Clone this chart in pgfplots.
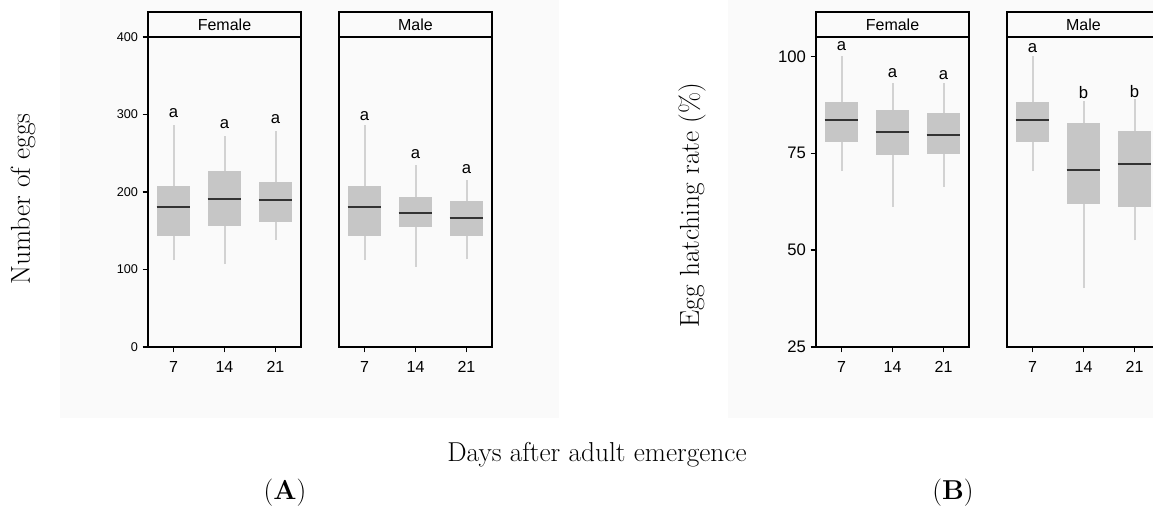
\documentclass[border=0pt]{standalone}
\usepackage{fontspec}
\usepackage{pgfplots}
\pgfplotsset{compat=1.18}
\setsansfont{Liberation Sans}

\definecolor{boxgray}{HTML}{C6C6C6}
\definecolor{whisk}{HTML}{D2D2D2}
\definecolor{medc}{HTML}{333333}
\definecolor{bg}{HTML}{FAFAFA}

% one box: position, left, right, lower whisker, Q1, median, Q3, upper whisker
\newcommand{\bx}[8]{%
  \addplot[draw=none, fill=boxgray] coordinates {(#2,#5) (#3,#5) (#3,#7) (#2,#7)} -- cycle;
  \addplot[whisk, line width=1.5pt] coordinates {(#1,#4) (#1,#5)};
  \addplot[whisk, line width=1.5pt] coordinates {(#1,#7) (#1,#8)};
  \addplot[medc, line width=1.5pt] coordinates {(#2,#6) (#3,#6)};}
\newcommand{\lab}[3]{\node[font=\sffamily\fontsize{12.5}{14}\selectfont, inner sep=0pt] at (axis cs:#1,#2) {#3};}
\newcommand{\strip}[1]{%
  \draw[line width=1pt] (rel axis cs:0,1) -- ++(0pt,18.75pt) -| (rel axis cs:1,1);
  \node[font=\sffamily\fontsize{12}{14}\selectfont, yshift=9.4pt] at (rel axis cs:0.5,1) {#1};}

\pgfplotsset{
  panel/.style={
    scale only axis, width=114.75pt, height=232.5pt, anchor=south west,
    xmin=0.5, xmax=3.5, xtick={1,2,3}, xticklabels={7,14,21},
    tick align=outside, xtick pos=lower, ytick pos=left,
    major tick length=4pt, minor tick num=0,
    axis line style={line width=1pt},
    every tick/.style={black, line width=1pt},
    clip=false,
    /pgf/number format/assume math mode=true,
    xticklabel style={font=\sffamily\fontsize{12}{14}\selectfont, yshift=-3pt},
  },
}

\begin{document}
\begin{tikzpicture}
% faint page background behind the two figures
\fill[bg] (45pt,69pt) rectangle (419.25pt,382.5pt);
\fill[bg] (546pt,69pt) rectangle (870pt,382.5pt);

% ---- (A) number of eggs, female
\begin{axis}[panel, at={(111pt,122.25pt)}, ymin=0, ymax=400,
  ytick={0,100,200,300,400},
  yticklabel style={font=\sffamily\fontsize{9.5}{11}\selectfont}]
\bx{1}{0.67}{1.33}{112}{143}{181}{208}{286}
\bx{2}{1.67}{2.33}{107}{156}{190.5}{226.5}{272.5}
\bx{3}{2.67}{3.33}{138}{161.5}{189.5}{212.5}{278.5}
\lab{1}{301.5}{a}
\lab{2}{287}{a}
\lab{3}{294}{a}
\strip{Female}
\end{axis}

% ---- (A) number of eggs, male
\begin{axis}[panel, at={(254.25pt,122.25pt)}, ymin=0, ymax=400,
  ymajorticks=false]
\bx{1}{0.67}{1.33}{112}{143}{181}{208}{286}
\bx{2}{1.67}{2.33}{103.5}{155}{173.5}{193.5}{235}
\bx{3}{2.67}{3.33}{113}{143}{166}{188.5}{215.5}
\lab{1}{298.5}{a}
\lab{2}{248.5}{a}
\lab{3}{229.5}{a}
\strip{Male}
\end{axis}

% ---- (B) egg hatching rate, female
\begin{axis}[panel, at={(612pt,122.25pt)}, ymin=25, ymax=105,
  ytick={25,50,75,100},
  yticklabel style={font=\sffamily\fontsize{12.5}{14}\selectfont}]
\bx{1}{0.67}{1.33}{70.4}{77.9}{83.7}{88.2}{100}
\bx{2}{1.67}{2.33}{61.2}{74.6}{80.6}{86.1}{93}
\bx{3}{2.67}{3.33}{66.3}{74.9}{79.7}{85.4}{93}
\lab{1}{102.7}{a}
\lab{2}{95.8}{a}
\lab{3}{95.1}{a}
\strip{Female}
\end{axis}

% ---- (B) egg hatching rate, male
\begin{axis}[panel, at={(755.25pt,122.25pt)}, ymin=25, ymax=105,
  ymajorticks=false]
\bx{1}{0.67}{1.33}{70.4}{77.9}{83.7}{88.2}{100}
\bx{2}{1.67}{2.33}{40.2}{61.9}{70.6}{82.7}{88.6}
\bx{3}{2.67}{3.33}{52.5}{61.0}{72.3}{80.7}{89.1}
\lab{1}{102.2}{a}
\lab{2}{90.6}{b}
\lab{3}{91.0}{b}
\strip{Male}
\end{axis}

% shared labels
\node[rotate=90, font=\fontsize{20.5}{24}\selectfont] at (17.25pt,233.25pt) {Number of eggs};
\node[rotate=90, font=\fontsize{20.5}{24}\selectfont] at (519pt,228.75pt) {Egg hatching rate (\%)};
\node[anchor=base, font=\fontsize{20.5}{24}\selectfont] at (447.75pt,36.2pt) {Days after adult emergence};
\node[anchor=base, font=\fontsize{20.5}{24}\selectfont] at (213.75pt,7.5pt) {(\textbf{A})};
\node[anchor=base, font=\fontsize{20.5}{24}\selectfont] at (714.75pt,7.5pt) {(\textbf{B})};

\pgfresetboundingbox
\path[use as bounding box] (0pt,0pt) rectangle (864.75pt,382.5pt);
\end{tikzpicture}
\end{document}
